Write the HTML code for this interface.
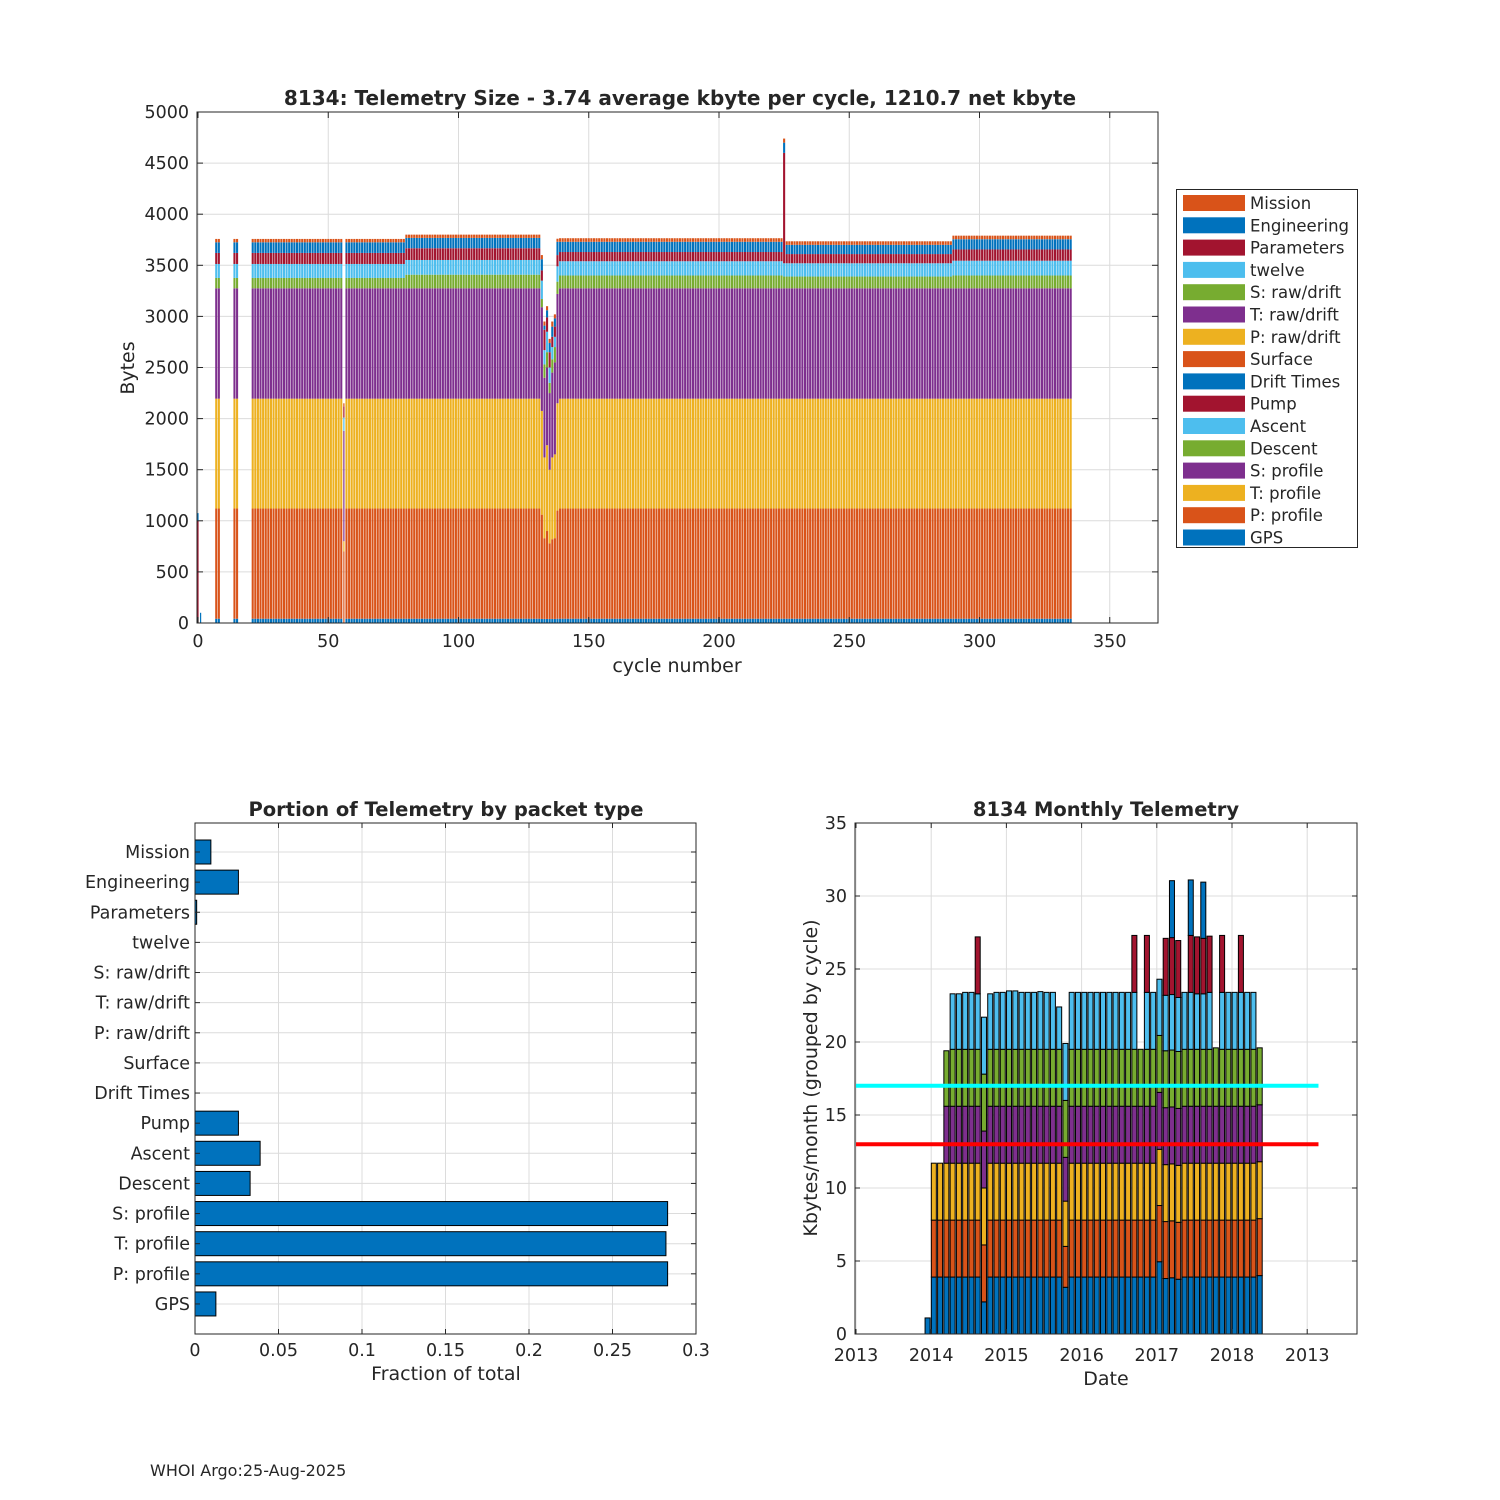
<!DOCTYPE html>
<html><head><meta charset="utf-8"><style>
html,body{margin:0;padding:0;background:#fff}
svg{display:block}
text{font-family:"DejaVu Sans","Liberation Sans",sans-serif;fill:#262626}
</style></head>
<body>
<svg id="fig" width="1500" height="1500" viewBox="0 0 1500 1500" xmlns="http://www.w3.org/2000/svg">
<rect x="0" y="0" width="1500" height="1500" fill="#fff"/>
<g id="top"></g>
<g id="bl"></g>
<g id="br"></g>
<text x="150" y="1476" font-size="16">WHOI Argo:25-Aug-2025</text>
</svg>
<script>
// ---------- TOP CHART DATA ----------
const layerNames = ['GPS','P: profile','T: profile','S: profile','Descent','Ascent','Pump','Engineering','Mission'];
const layerColors = ['#0072BD','#D95319','#EDB120','#7E2F8E','#77AC30','#4DBEEE','#A2142F','#0072BD','#D95319'];
const cycleRanges = [[7,8],[14,15],[21,335]];
const baseTops = [42,1120,2195,3275];
const blockFirstCycle = [0,80,139,226,290];
const blockDescentTop = [3376,3408,3400,3390,3400];
const blockAscentTop = [3513,3552,3540,3520,3545];
const blockPumpTop = [3621,3667,3630,3610,3655];
const blockEngTop = [3725,3768,3730,3700,3755];
const blockMissionTop = [3758,3800,3765,3735,3790];
const specialCycles = [0,1,56,132,133,134,135,136,137,138,225];
const specialTops = [
 [0,0,0,0,0,0,1000,1075,1075],
 [100,100,100,100,100,100,100,100,100],
 [0,700,800,1880,1880,2010,2120,2120,2150],
 [40,1060,2075,3090,3170,3350,3450,3560,3600],
 [40,830,1620,2400,2530,2670,2870,2910,2950],
 [40,900,1740,2500,2650,2850,2990,3060,3100],
 [40,780,1500,2250,2350,2500,2650,2740,2780],
 [40,820,1620,2450,2580,2700,2800,2900,2950],
 [40,830,1650,2550,2700,2800,2900,2980,3020],
 [42,1100,2150,3220,3340,3490,3600,3730,3760],
 [42,1120,2195,3275,3390,3520,4600,4700,4740]
];
const topXTicks = [0,50,100,150,200,250,300,350];
const topYTicks = [0,500,1000,1500,2000,2500,3000,3500,4000,4500,5000];
const legendLabels = ['Mission','Engineering','Parameters','twelve','S: raw/drift','T: raw/drift','P: raw/drift','Surface','Drift Times','Pump','Ascent','Descent','S: profile','T: profile','P: profile','GPS'];
const legendColors = ['#D95319','#0072BD','#A2142F','#4DBEEE','#77AC30','#7E2F8E','#EDB120','#D95319','#0072BD','#A2142F','#4DBEEE','#77AC30','#7E2F8E','#EDB120','#D95319','#0072BD'];

// ---------- BOTTOM LEFT DATA ----------
const packetTypes = ['Mission','Engineering','Parameters','twelve','S: raw/drift','T: raw/drift','P: raw/drift','Surface','Drift Times','Pump','Ascent','Descent','S: profile','T: profile','P: profile','GPS'];
const packetFractions = [0.0095,0.026,0.001,0,0,0,0,0,0,0.026,0.039,0.033,0.283,0.282,0.283,0.0125];
const fracTicks = [0,0.05,0.1,0.15,0.2,0.25,0.3];
const fracTickLabels = ['0','0.05','0.1','0.15','0.2','0.25','0.3'];

// ---------- BOTTOM RIGHT DATA ----------
const monthStartYear = 2013, monthStartMonth = 11; // Dec 2013 (0-based month)
const mL1 = [1.1,
 3.9,3.9,3.9,3.9,3.9,3.9,3.9,3.9,2.2,3.9,3.9,3.9,
 3.9,3.9,3.9,3.9,3.9,3.9,3.9,3.9,3.9,3.2,3.9,3.9,
 3.9,3.9,3.9,3.9,3.9,3.9,3.9,3.9,3.9,3.9,3.9,3.9,
 4.95,3.8,3.85,3.75,3.9,3.9,3.9,3.9,3.9,3.9,3.9,3.9,
 3.9,3.9,3.9,3.9,4.0];
const mL2 = [0,
 3.9,3.9,3.9,3.9,3.9,3.9,3.9,3.9,3.9,3.9,3.9,3.9,
 3.9,3.9,3.9,3.9,3.9,3.9,3.9,3.9,3.9,2.8,3.9,3.9,
 3.9,3.9,3.9,3.9,3.9,3.9,3.9,3.9,3.9,3.9,3.9,3.9,
 3.85,3.9,3.9,3.9,3.9,3.9,3.9,3.9,3.9,3.9,3.9,3.9,
 3.9,3.9,3.9,3.9,3.9];
const mL3 = [0,
 3.9,3.9,3.9,3.9,3.9,3.9,3.9,3.9,3.9,3.9,3.9,3.9,
 3.9,3.9,3.9,3.9,3.9,3.9,3.9,3.9,3.9,3.1,3.9,3.9,
 3.9,3.9,3.9,3.9,3.9,3.9,3.9,3.9,3.9,3.9,3.9,3.9,
 3.85,3.9,3.9,3.9,3.9,3.9,3.9,3.9,3.9,3.9,3.9,3.9,
 3.9,3.9,3.9,3.9,3.9];
const mL4 = [0,
 0,0,3.9,3.9,3.9,3.9,3.9,3.9,3.9,3.9,3.9,3.9,
 3.9,3.9,3.9,3.9,3.9,3.9,3.9,3.9,3.9,3.0,3.9,3.9,
 3.9,3.9,3.9,3.9,3.9,3.9,3.9,3.9,3.9,3.9,3.9,3.9,
 3.9,3.9,3.9,3.9,3.9,3.9,3.9,3.9,3.9,3.9,3.9,3.9,
 3.9,3.9,3.9,3.9,3.9];
const mL5 = [0,
 0,0,3.8,3.9,3.9,3.9,3.9,3.9,3.9,3.9,3.9,3.9,
 3.9,3.9,3.9,3.9,3.9,3.9,3.9,3.9,3.9,3.9,3.9,3.9,
 3.9,3.9,3.9,3.9,3.9,3.9,3.9,3.9,3.9,3.9,3.9,3.9,
 3.9,3.9,3.9,3.9,3.9,3.9,3.9,3.9,3.9,4.0,3.9,3.9,
 3.9,3.9,3.9,3.9,3.9];
const mL6 = [0,
 0,0,0,3.8,3.8,3.9,3.9,3.8,3.9,3.8,3.9,3.9,
 4.0,4.0,3.9,3.9,3.9,3.95,3.9,3.9,2.9,3.9,3.9,3.9,
 3.9,3.9,3.9,3.9,3.9,3.9,3.9,3.9,3.9,0,3.9,3.9,
 3.85,3.8,3.8,3.7,3.9,3.9,3.8,3.8,3.9,0,3.9,3.9,
 3.9,3.9,3.9,3.9,0];
const mL7 = [0,
 0,0,0,0,0,0,0,3.9,0,0,0,0,
 0,0,0,0,0,0,0,0,0,0,0,0,
 0,0,0,0,0,0,0,0,3.9,0,3.9,0,
 0,3.9,3.9,3.9,0,3.9,3.9,3.8,3.85,0,3.9,0,
 0,3.9,0,0,0];
const mL8 = [0,
 0,0,0,0,0,0,0,0,0,0,0,0,
 0,0,0,0,0,0,0,0,0,0,0,0,
 0,0,0,0,0,0,0,0,0,0,0,0,
 0,0,3.9,0,0,3.8,0,3.85,0,0,0,0,
 0,0,0,0,0];
const monthLayers = [mL1,mL2,mL3,mL4,mL5,mL6,mL7,mL8];
const monthColors = ['#0072BD','#D95319','#EDB120','#7E2F8E','#77AC30','#4DBEEE','#A2142F','#0072BD'];
const cyanLevel = 17, redLevel = 13;
const kbTicks = [0,5,10,15,20,25,30,35];
const yearTicks = [2013,2014,2015,2016,2017,2018,2019];
const yearTickLabels = ['2013','2014','2015','2016','2017','2018','2013'];

// ---------- helpers ----------
const NS='http://www.w3.org/2000/svg';
function mk(parent, tag, attrs, name, inter){
  const e=document.createElementNS(NS,tag);
  for(const k in attrs) e.setAttribute(k, attrs[k]);
  
  
  parent.appendChild(e); return e;
}
function txt(parent,x,y,s,size,anchor,name,extra){
  const a=Object.assign({x:x,y:y,'font-size':size,'text-anchor':anchor||'middle'},extra||{});
  const t=mk(parent,'text',a,name,false); t.textContent=s; return t;
}
const GRID='#dcdcdc', AX='#262626';
const TF=17.5;

// ---------- TOP CHART ----------
(function(){
  const g=document.getElementById('top');
  const L=197,R=1158,T=112,B=623;
  const X=v=>198+(v)*2.605;
  const Y=v=>B-v*(B-T)/5000;
  topXTicks.forEach(v=>{mk(g,'line',{x1:X(v),x2:X(v),y1:T,y2:B,stroke:GRID,'stroke-width':1},'x-grid-line',false);});
  topYTicks.forEach(v=>{mk(g,'line',{x1:L,x2:R,y1:Y(v),y2:Y(v),stroke:GRID,'stroke-width':1},'y-grid-line',false);});
  function tops(c){
    const si=specialCycles.indexOf(c);
    if(si>=0) return specialTops[si];
    let b=0; for(let i=0;i<blockFirstCycle.length;i++) if(c>=blockFirstCycle[i]) b=i;
    return baseTops.concat([blockDescentTop[b],blockAscentTop[b],blockPumpTop[b],blockEngTop[b],blockMissionTop[b]]);
  }
  const cycles=[0,1];
  cycleRanges.forEach(r=>{for(let c=r[0];c<=r[1];c++) cycles.push(c);});
  cycles.forEach(c=>{
    const tp=tops(c); let prev=0;
    const w=(c===56||c<=1)?0.45:0.8;
    for(let k=0;k<9;k++){
      const v=tp[k];
      if(v>prev){
        const r=mk(g,'rect',{x:X(c)-w*2.605/2,y:Y(v),width:w*2.605,height:Y(prev)-Y(v),fill:layerColors[k]},'bar-segment',false);
        
      }
      if(v>prev) prev=v;
    }
  });
  mk(g,'rect',{x:L,y:T,width:R-L,height:B-T,fill:'none',stroke:AX,'stroke-width':1},'plot-box',false);
  topXTicks.forEach(v=>{mk(g,'line',{x1:X(v),x2:X(v),y1:B,y2:B-6,stroke:AX},'x-tick',false);mk(g,'line',{x1:X(v),x2:X(v),y1:T,y2:T+6,stroke:AX},'x-tick',false);
    txt(g,X(v),B+24,String(v),TF,'middle','x-tick-label');});
  topYTicks.forEach(v=>{mk(g,'line',{x1:L,x2:L+6,y1:Y(v),y2:Y(v),stroke:AX},'y-tick',false);mk(g,'line',{x1:R,x2:R-6,y1:Y(v),y2:Y(v),stroke:AX},'y-tick',false);
    txt(g,L-8,Y(v)+6,String(v),TF,'end','y-tick-label');});
  txt(g,680,105,'8134: Telemetry Size - 3.74 average kbyte per cycle, 1210.7 net kbyte',20,'middle','chart-title',{'font-weight':'bold',fill:'#000'});
  txt(g,677,672,'cycle number',19,'middle','x-axis-title');
  txt(g,134,368,'Bytes',19,'middle','y-axis-title',{transform:'rotate(-90 134 368)'});
  const lg=mk(g,'g',{},'legend',false);
  mk(lg,'rect',{x:1176.5,y:189.5,width:181,height:358,fill:'#fff',stroke:AX,'stroke-width':1},'legend-box',false);
  legendLabels.forEach((s,i)=>{
    const y=203+i*22.3;
    const e=mk(lg,'g',{},'legend-entry',false);
    
    mk(e,'rect',{x:1183,y:y-8,width:62,height:16,fill:legendColors[i]},'legend-swatch',false);
    txt(e,1250,y+6,s,16.5,'start','legend-label');
  });
})();

// ---------- BOTTOM LEFT ----------
(function(){
  const g=document.getElementById('bl');
  const L=195,R=696,T=823,B=1334;
  const X=v=>L+v*(R-L)/0.3;
  const Y=i=>852+i*30.13;
  fracTicks.forEach(v=>mk(g,'line',{x1:X(v),x2:X(v),y1:T,y2:B,stroke:GRID},'x-grid-line',false));
  packetTypes.forEach((s,i)=>mk(g,'line',{x1:L,x2:R,y1:Y(i),y2:Y(i),stroke:GRID},'y-grid-line',false));
  packetTypes.forEach((s,i)=>{
    const v=packetFractions[i];
    if(v>0){
      const r=mk(g,'rect',{x:L,y:Y(i)-12,width:X(v)-L,height:24,fill:'#0072BD',stroke:'#000','stroke-width':1},'bar',false);
      
    }
  });
  mk(g,'rect',{x:L,y:T,width:R-L,height:B-T,fill:'none',stroke:AX},'plot-box',false);
  fracTicks.forEach((v,i)=>{mk(g,'line',{x1:X(v),x2:X(v),y1:B,y2:B-5,stroke:AX},'x-tick',false);mk(g,'line',{x1:X(v),x2:X(v),y1:T,y2:T+5,stroke:AX},'x-tick',false);
    txt(g,X(v),B+22,fracTickLabels[i],TF,'middle','x-tick-label');});
  packetTypes.forEach((s,i)=>{mk(g,'line',{x1:L,x2:L+5,y1:Y(i),y2:Y(i),stroke:AX},'y-tick',false);mk(g,'line',{x1:R,x2:R-5,y1:Y(i),y2:Y(i),stroke:AX},'y-tick',false);
    txt(g,L-5,Y(i)+6,s,TF,'end','y-tick-label');});
  txt(g,446,816,'Portion of Telemetry by packet type',19.5,'middle','chart-title',{'font-weight':'bold',fill:'#000'});
  txt(g,446,1380,'Fraction of total',19,'middle','x-axis-title');
})();

// ---------- BOTTOM RIGHT ----------
(function(){
  const g=document.getElementById('br');
  const L=855,R=1357,T=823,B=1334;
  const X=yr=>856+(yr-2013)*75.2;
  const Y=v=>B-v*(B-T)/35;
  yearTicks.forEach(v=>mk(g,'line',{x1:X(v),x2:X(v),y1:T,y2:B,stroke:GRID},'x-grid-line',false));
  kbTicks.forEach(v=>mk(g,'line',{x1:L,x2:R,y1:Y(v),y2:Y(v),stroke:GRID},'y-grid-line',false));
  for(let i=0;i<mL1.length;i++){
    const mo=monthStartMonth+i;
    const yr=monthStartYear+Math.floor(mo/12)+((mo%12)+0.42)/12;
    const w=0.8/12*75.2;
    let base=0;
    for(let k=0;k<monthLayers.length;k++){
      const v=monthLayers[k][i];
      if(v>0){
        const r=mk(g,'rect',{x:X(yr)-w/2,y:Y(base+v),width:w,height:Y(base)-Y(base+v),fill:monthColors[k],stroke:'#000','stroke-width':1},'month-bar-segment',false);
        
      }
      base+=v;
    }
  }
  mk(g,'line',{x1:X(2013),x2:X(2019.15),y1:Y(cyanLevel),y2:Y(cyanLevel),stroke:'#00FFFF','stroke-width':4},'cyan-reference-line',false);
  mk(g,'line',{x1:X(2013),x2:X(2019.15),y1:Y(redLevel),y2:Y(redLevel),stroke:'#FF0000','stroke-width':4},'red-reference-line',false);
  mk(g,'rect',{x:L,y:T,width:R-L,height:B-T,fill:'none',stroke:AX},'plot-box',false);
  yearTicks.forEach((v,i)=>{mk(g,'line',{x1:X(v),x2:X(v),y1:B,y2:B-5,stroke:AX},'x-tick',false);mk(g,'line',{x1:X(v),x2:X(v),y1:T,y2:T+5,stroke:AX},'x-tick',false);
    txt(g,X(v),B+27,yearTickLabels[i],TF,'middle','x-tick-label');});
  kbTicks.forEach(v=>{mk(g,'line',{x1:L,x2:L+5,y1:Y(v),y2:Y(v),stroke:AX},'y-tick',false);mk(g,'line',{x1:R,x2:R-5,y1:Y(v),y2:Y(v),stroke:AX},'y-tick',false);
    txt(g,L-8,Y(v)+6,String(v),TF,'end','y-tick-label');});
  txt(g,1106,816,'8134 Monthly Telemetry',19.5,'middle','chart-title',{'font-weight':'bold',fill:'#000'});
  txt(g,1106,1385,'Date',19,'middle','x-axis-title');
  txt(g,817,1078,'Kbytes/month (grouped by cycle)',19,'middle','y-axis-title',{transform:'rotate(-90 817 1078)'});
})();
</script>
</body></html>
